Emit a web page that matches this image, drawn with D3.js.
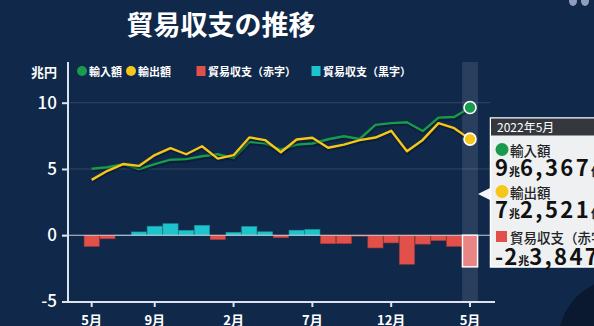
<!DOCTYPE html>
<html>
<head>
<meta charset="utf-8">
<script src="https://cdn.jsdelivr.net/npm/d3@7"></script>
<style>
  html, body { margin: 0; padding: 0; background: #10284a; overflow: hidden; }
  svg { display: block; }
  text { font-family: "Noto Sans CJK JP", "Noto Sans", sans-serif; }
</style>
</head>
<body>
<svg id="chart" width="594" height="326"></svg>
<script>
// 月次データ（兆円）2020年5月〜2022年5月
const months = ["2020-05","2020-06","2020-07","2020-08","2020-09","2020-10","2020-11","2020-12",
  "2021-01","2021-02","2021-03","2021-04","2021-05","2021-06","2021-07","2021-08","2021-09",
  "2021-10","2021-11","2021-12","2022-01","2022-02","2022-03","2022-04","2022-05"];
const imports = [5.02, 5.13, 5.36, 4.99, 5.37, 5.70, 5.74, 5.96, 6.11, 5.82, 7.04, 6.93, 6.45,
  6.84, 6.92, 7.24, 7.47, 7.26, 8.33, 8.46, 8.52, 7.86, 8.87, 8.92, 9.6367];
const exports = [4.18, 4.86, 5.37, 5.23, 6.05, 6.57, 6.11, 6.71, 5.78, 6.04, 7.38, 7.18, 6.26,
  7.22, 7.36, 6.60, 6.84, 7.18, 7.37, 7.88, 6.33, 7.19, 8.46, 8.08, 7.2521];
const balance = [-0.84, -0.27, 0.01, 0.25, 0.68, 0.87, 0.37, 0.75, -0.33, 0.22, 0.66, 0.26, -0.19,
  0.38, 0.44, -0.64, -0.63, -0.07, -0.96, -0.58, -2.19, -0.67, -0.41, -0.84, -2.3847];
const xTickMonths = ["2020-05","2020-09","2021-02","2021-07","2021-12","2022-05"];
const xTickLabels = ["5月","9月","2月","7月","12月","5月"];
const yTicks = [-5, 0, 5, 10];
const legendLabels = ["輸入額","輸出額","貿易収支（赤字）","貿易収支（黒字）"];
const title = "貿易収支の推移";
const unitLabel = "兆円";
const focusLabel = "2022年5月";

const C = {
  bg: "#10284a", axis: "#dde3ea", green: "#1a9a4c", yellow: "#f6c619",
  red: "#e1504a", cyan: "#1fc3cb", pink: "#ea8585"
};

const svg = d3.select("#chart");
svg.append("rect").attr("width", 594).attr("height", 326).attr("fill", C.bg);
// 右下の暗い円
svg.append("circle").attr("cx", 622).attr("cy", 342).attr("r", 64).attr("fill", "#0a1830");
// 右上のロゴ片
svg.append("ellipse").attr("cx", 573).attr("cy", 1).attr("rx", 4).attr("ry", 5).attr("fill", "#8e9fbd");
svg.append("ellipse").attr("cx", 585).attr("cy", 1).attr("rx", 4).attr("ry", 5).attr("fill", "#8e9fbd");

const x = d3.scaleBand().domain(months).range([83.8, 477.9]).padding(0);
const cx = m => x(m) + x.bandwidth() / 2;
const y = d3.scaleLinear().domain([-5, 10]).range([301.5, 102.7]);

// タイトル
svg.append("text").attr("x", 221).attr("y", 23).attr("text-anchor", "middle")
  .attr("dominant-baseline", "central").attr("fill", "#fff")
  .attr("font-size", 27).attr("font-weight", 700).text(title);

// 単位
svg.append("text").attr("x", 57).attr("y", 71).attr("text-anchor", "end")
  .attr("dominant-baseline", "central").attr("fill", "#fff")
  .attr("font-size", 13).attr("font-weight", 700).text(unitLabel);

// 凡例
const leg = svg.append("g").attr("font-size", 11).attr("font-weight", 700).attr("fill", "#fff");
const legendItems = [
  { label: legendLabels[0], color: C.green, shape: "circle", x: 82 },
  { label: legendLabels[1], color: C.yellow, shape: "circle", x: 131 },
  { label: legendLabels[2], color: C.red, shape: "rect", x: 201 },
  { label: legendLabels[3], color: C.cyan, shape: "rect", x: 316 }
];
legendItems.forEach(it => {
  if (it.shape === "circle") {
    leg.append("circle").attr("cx", it.x).attr("cy", 71).attr("r", 5).attr("fill", it.color);
  } else {
    leg.append("rect").attr("x", it.x - 4.5).attr("y", 66).attr("width", 9).attr("height", 10).attr("fill", it.color);
  }
  leg.append("text").attr("x", it.x + 7).attr("y", 71).attr("dominant-baseline", "central").text(it.label);
});

// 最新月の強調帯
svg.append("rect").attr("x", x(months[24])).attr("y", 62).attr("width", x.bandwidth())
  .attr("height", 240).attr("fill", "#ffffff").attr("opacity", 0.11);

// グリッド線
svg.append("g").selectAll("line").data([5, 10]).join("line")
  .attr("x1", 68).attr("x2", 490).attr("y1", d => y(d)).attr("y2", d => y(d))
  .attr("stroke", "#ffffff").attr("stroke-opacity", 0.14).attr("stroke-width", 1);

// 貿易収支の棒
const bars = svg.append("g");
bars.selectAll("rect").data(months).join("rect")
  .attr("x", m => x(m) + 0.3)
  .attr("width", x.bandwidth() - 0.6)
  .attr("y", (m, i) => y(Math.max(0, balance[i])))
  .attr("height", (m, i) => Math.abs(y(balance[i]) - y(0)))
  .attr("fill", (m, i) => i === 24 ? C.pink : (balance[i] < 0 ? C.red : C.cyan))
  .attr("stroke", (m, i) => i === 24 ? "#ffffff" : (balance[i] < 0 ? "#a83a38" : "#17939a"))
  .attr("stroke-width", (m, i) => i === 24 ? 1.5 : 0.6);

// ゼロ線
svg.append("line").attr("x1", 62).attr("x2", 490).attr("y1", y(0)).attr("y2", y(0))
  .attr("stroke", "#e8ecf0").attr("stroke-width", 1.2).attr("opacity", 0.85);

// 折れ線（輸入・輸出）
const line = vals => d3.line().x((d, i) => cx(months[i])).y(d => y(d))(vals);
[[imports, C.green], [exports, C.yellow]].forEach(([vals, col]) => {
  svg.append("path").attr("d", line(vals)).attr("fill", "none")
    .attr("stroke", "#061428").attr("stroke-opacity", 0.45).attr("stroke-width", 4.5)
    .attr("transform", "translate(0.5,1)");
  svg.append("path").attr("d", line(vals)).attr("fill", "none")
    .attr("stroke", col).attr("stroke-width", 2.4).attr("stroke-linejoin", "round");
});

// 最新月の点
svg.append("circle").attr("cx", cx(months[24])).attr("cy", y(imports[24])).attr("r", 6)
  .attr("fill", C.green).attr("stroke", "#fff").attr("stroke-width", 1.6);
svg.append("circle").attr("cx", cx(months[24])).attr("cy", y(exports[24])).attr("r", 6)
  .attr("fill", C.yellow).attr("stroke", "#fff").attr("stroke-width", 1.6);

// 軸
const yAxis = d3.axisLeft(y).tickValues(yTicks).tickSize(6).tickPadding(5).tickFormat(d => String(d));
const gy = svg.append("g").attr("transform", "translate(68,0)").call(yAxis);
gy.select(".domain").remove();
gy.selectAll(".tick line").attr("stroke", C.axis).attr("stroke-width", 2);
gy.selectAll(".tick text").attr("fill", "#fff").attr("font-size", 17)
  .attr("font-family", "Roboto, 'Noto Sans', sans-serif").attr("font-weight", 500);
svg.append("line").attr("x1", 68).attr("x2", 68).attr("y1", 62).attr("y2", 302.5)
  .attr("stroke", C.axis).attr("stroke-width", 2);

const xAxis = d3.axisBottom(x).tickValues(xTickMonths).tickSize(5).tickPadding(9)
  .tickFormat(m => xTickLabels[xTickMonths.indexOf(m)]);
const gx = svg.append("g").attr("transform", "translate(0,302)").call(xAxis);
gx.select(".domain").remove();
gx.selectAll(".tick line").attr("stroke", C.axis).attr("stroke-width", 2);
gx.selectAll(".tick text").attr("fill", "#fff").attr("font-size", 13).attr("font-weight", 700)
  .attr("font-family", "'Noto Sans CJK JP', sans-serif");
svg.append("line").attr("x1", 62).attr("x2", 495).attr("y1", 302).attr("y2", 302)
  .attr("stroke", C.axis).attr("stroke-width", 2);

// 詳細パネル
const fmt = v => {
  const oku = Math.round(Math.abs(v) * 10000);
  const cho = Math.floor(oku / 10000);
  const rest = d3.format(",")(oku % 10000);
  return { sign: v < 0 ? "-" : "", cho: String(cho), rest: rest };
};
const panel = svg.append("g");
panel.append("path").attr("d", "M478,194 L491,187.5 L491,200.5 Z").attr("fill", "#f2f4f6");
panel.append("rect").attr("x", 490.5).attr("y", 118).attr("width", 120).attr("height", 149)
  .attr("fill", "#eef0f2").attr("stroke", "#ffffff").attr("stroke-width", 1.5);
panel.append("rect").attr("x", 491).attr("y", 118.5).attr("width", 120).attr("height", 17)
  .attr("fill", "#34383e");
panel.append("text").attr("x", 497).attr("y", 131.5).attr("fill", "#fff")
  .attr("font-size", 12).attr("font-family", "Roboto, 'Noto Sans CJK JP', sans-serif").text(focusLabel);

const rows = [
  { label: legendLabels[0], color: C.green, shape: "circle", v: imports[24], ly: 149.5, vy: 176 },
  { label: legendLabels[1], color: C.yellow, shape: "circle", v: exports[24], ly: 191.5, vy: 218 },
  { label: legendLabels[2], color: C.red, shape: "rect", v: balance[24], ly: 236.5, vy: 264.5 }
];
rows.forEach(r => {
  if (r.shape === "circle") {
    panel.append("circle").attr("cx", 502).attr("cy", r.ly).attr("r", 6.5).attr("fill", r.color);
  } else {
    panel.append("rect").attr("x", 496).attr("y", r.ly - 5.5).attr("width", 11).attr("height", 11).attr("fill", r.color);
  }
  panel.append("text").attr("x", 510).attr("y", r.ly).attr("dominant-baseline", "central")
    .attr("fill", "#222").attr("font-size", 13.5).attr("font-weight", 500).text(r.label);
  const f = fmt(r.v);
  const t = panel.append("text").attr("x", 495).attr("y", r.vy).attr("fill", "#111")
    .attr("font-weight", 700).attr("font-family", "Roboto, 'Noto Sans CJK JP', sans-serif");
  t.append("tspan").attr("font-size", 22).attr("letter-spacing", 1).text(f.sign + f.cho);
  t.append("tspan").attr("font-size", 11).attr("font-family", "'Noto Sans CJK JP', sans-serif").text("兆");
  t.append("tspan").attr("font-size", 22).attr("letter-spacing", 2.4).text(f.rest);
  t.append("tspan").attr("font-size", 11).attr("font-family", "'Noto Sans CJK JP', sans-serif").text("億");
});
</script>
</body>
</html>
